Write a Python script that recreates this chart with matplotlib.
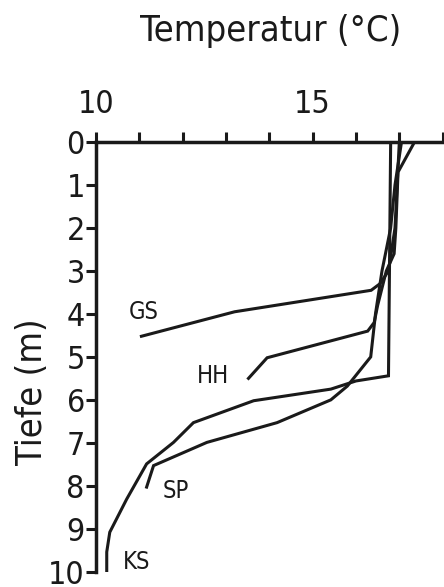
import matplotlib.pyplot as plt

# depth (m) / temperature (degC) profiles
gs_depth = [0.0, 1.0, 2.0, 3.0, 3.3, 3.45, 3.95, 4.52]
gs_temp = [17.0, 16.95, 16.9, 16.75, 16.55, 16.35, 13.2, 11.05]

hh_depth = [0.0, 0.7, 2.0, 2.6, 3.0, 3.8, 4.2, 4.4, 5.02, 5.5]
hh_temp = [17.35, 16.97, 16.92, 16.88, 16.7, 16.5, 16.42, 16.27, 13.95, 13.52]

sp_depth = [0.0, 1.0, 2.0, 3.0, 4.0, 5.0, 5.68, 6.0, 6.53, 6.99, 7.53, 8.03]
sp_temp = [17.05, 16.9, 16.8, 16.6, 16.45, 16.34, 15.8, 15.42, 14.18, 12.56, 11.33, 11.17]

ks_depth = [0.0, 5.44, 5.56, 5.75, 6.02, 6.53, 6.99, 7.49, 8.31, 9.08, 9.54, 10.0]
ks_temp = [16.8, 16.75, 16.0, 15.42, 13.64, 12.25, 11.79, 11.17, 10.71, 10.32, 10.25, 10.25]

labels = ["GS", "HH", "SP", "KS"]
label_temp = [11.1, 12.7, 11.85, 10.95]
label_depth = [3.95, 5.45, 8.12, 9.77]

x_ticks = [10, 11, 12, 13, 14, 15, 16, 17, 18]
x_ticklabels = ["10", "", "", "", "", "15", "", "", ""]
y_ticks = list(range(11))

plt.rcParams['font.family'] = ['DejaVu Sans']

fig = plt.figure(figsize=(4.44, 5.87), dpi=100)
ax = fig.add_axes([0.216, 0.026, 0.781, 0.732])

ink = '#1a1a1a'
for t, d in [(gs_temp, gs_depth), (hh_temp, hh_depth),
             (sp_temp, sp_depth), (ks_temp, ks_depth)]:
    ax.plot(t, d, color=ink, lw=2.2, solid_joinstyle='miter')

for lab, t, d in zip(labels, label_temp, label_depth):
    ax.text(t, d, lab, fontsize=17, ha='center', va='center',
            color=ink, fontstretch='condensed')

ax.set_xlim(10, 18)
ax.set_ylim(10, 0)
ax.xaxis.tick_top()
ax.set_xticks(x_ticks)
ax.set_xticklabels(x_ticklabels)
ax.set_yticks(y_ticks)
ax.tick_params(axis='x', direction='out', length=7, width=2.2, pad=9,
               labelsize=23, colors=ink)
ax.tick_params(axis='y', direction='out', length=7, width=2.2, pad=1,
               labelsize=23, colors=ink)
for lbl in ax.get_xticklabels() + ax.get_yticklabels():
    lbl.set_fontstretch('condensed')

for side in ['right', 'bottom']:
    ax.spines[side].set_visible(False)
for side in ['top', 'left']:
    ax.spines[side].set_linewidth(2.5)
    ax.spines[side].set_color(ink)

fig.text(0.61, 0.948, "Temperatur (°C)", fontsize=26, ha='center',
         va='center', color=ink, fontstretch='condensed')
fig.text(0.072, 0.332, "Tiefe (m)", fontsize=26, rotation=90,
         ha='center', va='center', color=ink, fontstretch='condensed')

fig.savefig("out.png", dpi=100)
